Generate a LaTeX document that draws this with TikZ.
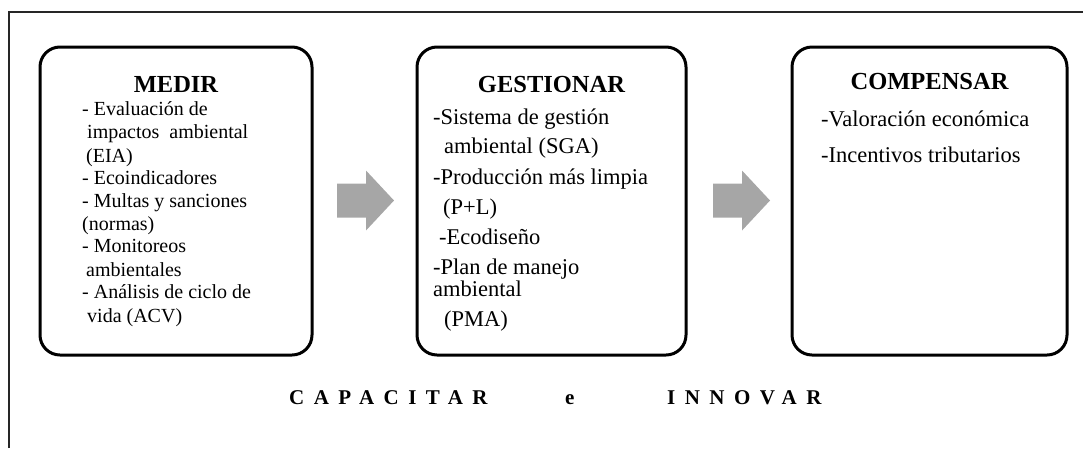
\documentclass[tikz,border=0pt]{standalone}
\usepackage{fontspec}
\setmainfont{Liberation Serif}
\begin{document}
\begin{tikzpicture}[x=1pt,y=-1pt,
  frame/.style={draw=black!85, line width=2pt},
  stage/.style={draw=black, line width=3pt, rounded corners=20pt, fill=white,
                minimum height=308pt, inner sep=0pt},
  title/.style={font=\fontsize{24.5}{28}\selectfont\bfseries, inner sep=0pt, anchor=base},
  small/.style={font=\fontsize{20}{23}\selectfont, inner sep=0pt, anchor=base west},
  item/.style={font=\fontsize{22.5}{26}\selectfont, inner sep=0pt, anchor=base west},
  motto/.style={font=\fontsize{21}{24}\selectfont\bfseries\addfontfeatures{LetterSpace=45},
                inner sep=0pt, anchor=base west},
  blockarrow/.pic={\fill[black!35] (0,-17) -- (29,-17) -- (29,-30) -- (57,0)
                   -- (29,30) -- (29,17) -- (0,17) -- cycle;}
]
\useasboundingbox (0,0) rectangle (1083,448);

% outer frame: only the top and left edges are drawn
\coordinate (fbl) at (8.5,448);
\coordinate (ftl) at (8.5,11.5);
\coordinate (ftr) at (1083,11.5);
\draw[frame] (fbl) -- (ftl) -- (ftr);

% the three stages
\node[stage, minimum width=272pt] (medir)     at (176,201)   {};
\node[stage, minimum width=269pt] (gestionar) at (551.5,201) {};
\node[stage, minimum width=275pt] (compensar) at (929.5,201) {};

% block arrows between the stages
\pic at (337,200.5) {blockarrow};
\pic at (713,200.5) {blockarrow};

% titles
\node[title] (tmedir) at (176,92)   {MEDIR};
\node[title] (tgest)  at (551.5,92) {GESTIONAR};
\node[title] (tcomp)  at (929.5,89) {COMPENSAR};

% MEDIR items
\foreach \x/\y/\t [count=\i] in {
   82/115/{- Evaluación de},
   87/138/{impactos\ \ ambiental},
   86/162/{(EIA)},
   82/184/{- Ecoindicadores},
   82/207/{- Multas y sanciones},
   82/230/{(normas)},
   82/252/{- Monitoreos},
   86/276/{ambientales},
   82/298/{- Análisis de ciclo de},
   87/322/{vida (ACV)}}
  \node[small] (m\i) at (\x,\y) {\t};

% GESTIONAR items
\foreach \x/\y/\t [count=\i] in {
   433/124/{-Sistema de gestión},
   444/153/{ambiental (SGA)},
   433/184/{-Producción más limpia},
   443/214/{(P+L)},
   439/244/{-Ecodiseño},
   433/274/{-Plan de manejo},
   433/296/{ambiental},
   444/326/{(PMA)}}
  \node[item] (g\i) at (\x,\y) {\t};

% COMPENSAR items
\node[item] (c1) at (821,126) {-Valoración económica};
\node[item] (c2) at (821,162) {-Incentivos tributarios};

% motto
\node[motto] (cap) at (289,404) {CAPACITAR};
\node[motto] (e)   at (565,404) {e};
\node[motto] (inn) at (667,404) {INNOVAR};
\end{tikzpicture}
\end{document}
